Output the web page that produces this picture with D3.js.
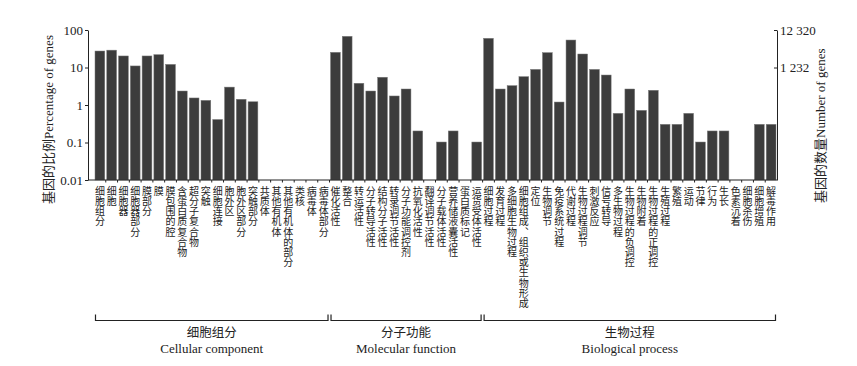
<!DOCTYPE html>
<html>
<head>
<meta charset="utf-8">
<script src="https://cdn.jsdelivr.net/npm/d3@7"></script>
<style>
body { margin: 0; background: #fff; }
</style>
</head>
<body>
<script>

const width = 857;
const height = 366;
const margin = ({top: 30, right: 80, bottom: 186, left: 88});

// categories and percentage of genes (0 = no bar)
const ccNames = ["细胞组分", "细胞", "细胞器", "细胞器部分", "膜部分", "膜", "膜包围的腔", "含蛋白质复合物",
    "超分子复合物", "突触", "细胞连接", "胞外区", "胞外区部分", "突触部分", "共质体", "其他有机体",
    "其他有机体的部分", "类核", "病毒体", "病毒体部分"];
const ccValues = [27.5, 29, 20.3, 11, 20.3, 22, 12.1, 2.36, 1.54, 1.33, 0.41, 3.0, 1.42, 1.22, 0, 0, 0, 0, 0, 0];

const mfNames = ["催化活性", "整合", "转运活性", "分子转导活性", "结构分子活性", "转录调节活性", "分子功能调控剂",
    "抗氧化活性", "翻译调节活性", "分子载体活性", "营养储液囊活性", "蛋白质标记", "运货受体活性"];
const mfValues = [25.4, 67.8, 3.8, 2.36, 5.5, 1.74, 2.67, 0.203, 0, 0.103, 0.203, 0, 0.103];

const bpNames = ["细胞过程", "发育过程", "多细胞生物过程", "细胞组成、组织或生物形成", "定位", "生物调节",
    "免疫系统过程", "代谢过程", "生物过程调节", "刺激反应", "信号转导", "多生物过程", "生物过程的负调控",
    "生物附着", "生物过程的正调控", "生殖过程", "繁殖", "运动", "节律", "行为", "生长", "色素沉着",
    "细胞杀伤", "细胞增殖", "解毒作用"];
const bpValues = [60, 2.67, 3.28, 5.7, 8.9, 24.9, 1.2, 54, 22.9, 8.9, 6.3, 0.6, 2.67, 0.72, 2.47,
    0.305, 0.305, 0.6, 0.103, 0.203, 0.203, 0, 0, 0.305, 0.305];

const groupCn = ["细胞组分", "分子功能", "生物过程"];
const groupEn = ["Cellular component", "Molecular function", "Biological process"];
const leftTicks = [100, 10, 1, 0.1, 0.01];
const rightTicks = [12320, 1232];
const totalGenes = 12320;

const serif = "'Liberation Serif', 'Times New Roman', 'Noto Sans CJK SC', serif";

window.onload = function(){

    var names = ccNames.concat(mfNames, bpNames);
    var values = ccValues.concat(mfValues, bpValues);
    var data = names.map(function(d, i){ return {name: d, value: values[i]}; });
    var groups = [ccNames, mfNames, bpNames].map(function(g, i){
        return {cn: groupCn[i], en: groupEn[i], first: g[0], last: g[g.length - 1]};
    });

    const x = d3.scaleBand()
        .domain(names)
        .range([94, width - margin.right])
        .paddingInner(0.17)
        .paddingOuter(0.085);

    const y = d3.scaleLog()
        .domain([0.01, 100])
        .range([height - margin.bottom, margin.top]);

    const yRight = d3.scaleLog()
        .domain([totalGenes / 10000, totalGenes])
        .range([height - margin.bottom, margin.top]);

    const locale = d3.formatLocale({decimal: ".", thousands: " ", grouping: [3], currency: ["", ""]});

    const svg = d3.select("body")
        .append("svg")
        .attr("width", width)
        .attr("height", height)
        .style("font-family", serif)
        .style("background", "#fff");

    // bars
    svg.append("g")
        .attr("fill", "#3c3c3c")
        .attr("stroke", "#7a7a7a")
        .attr("stroke-width", 0.5)
        .selectAll("rect")
        .data(data.filter(function(d){ return d.value > 0; }))
        .join("rect")
        .attr("x", function(d){ return x(d.name); })
        .attr("width", x.bandwidth())
        .attr("y", function(d){ return y(d.value); })
        .attr("height", function(d){ return y(0.01) - y(d.value); });

    // left axis
    svg.append("g")
        .attr("transform", "translate(" + margin.left + ",0)")
        .call(d3.axisLeft(y).tickValues(leftTicks).tickFormat(function(d){ return String(d); })
            .tickSizeInner(3).tickSizeOuter(0).tickPadding(2))
        .call(function(g){
            g.selectAll("text").attr("font-size", 13).attr("font-family", serif).attr("fill", "#222");
            g.selectAll("line, path").attr("stroke", "#222");
        });

    // right axis
    svg.append("g")
        .attr("transform", "translate(" + (width - margin.right) + ",0)")
        .call(d3.axisRight(yRight).tickValues(rightTicks).tickFormat(locale.format(","))
            .tickSizeInner(-3).tickSizeOuter(0).tickPadding(3))
        .call(function(g){
            g.selectAll("text").attr("font-size", 13).attr("font-family", serif).attr("fill", "#222");
            g.selectAll("line, path").attr("stroke", "#222");
        });

    // bottom axis line with small ticks between bars
    var step = x.step();
    svg.append("line")
        .attr("x1", margin.left).attr("x2", width - margin.right)
        .attr("y1", y(0.01)).attr("y2", y(0.01))
        .attr("stroke", "#222");
    svg.append("g")
        .attr("stroke", "#222")
        .selectAll("line")
        .data(names.slice(1))
        .join("line")
        .attr("x1", function(d){ return x(d) - step * x.paddingInner() / 2; })
        .attr("x2", function(d){ return x(d) - step * x.paddingInner() / 2; })
        .attr("y1", y(0.01))
        .attr("y2", y(0.01) + 2.5);

    // vertical category labels (top to bottom)
    svg.append("g")
        .attr("font-family", "'Noto Sans CJK SC', sans-serif")
        .attr("font-size", 10)
        .attr("fill", "#222")
        .selectAll("text")
        .data(names)
        .join("text")
        .attr("writing-mode", "vertical-rl")
        .attr("letter-spacing", 0.2)
        .attr("x", function(d){ return x(d) + x.bandwidth() / 2; })
        .attr("y", 186)
        .text(function(d){ return d; });

    // group brackets
    var gb = svg.append("g").selectAll("g").data(groups).join("g");
    gb.append("path")
        .attr("fill", "none")
        .attr("stroke", "#222")
        .attr("stroke-width", 1.2)
        .attr("d", function(d){
            var x0 = x(d.first) + 0.5, x1 = x(d.last) + x.bandwidth() - 0.5;
            return "M" + x0 + ",314.5V320.5H" + x1 + "V314.5";
        });
    gb.append("text")
        .attr("x", function(d){ return (x(d.first) + x(d.last) + x.bandwidth()) / 2; })
        .attr("y", 337)
        .attr("text-anchor", "middle")
        .attr("font-size", 12.5)
        .attr("font-family", "'Noto Sans CJK SC', sans-serif")
        .attr("fill", "#222")
        .text(function(d){ return d.cn; });
    gb.append("text")
        .attr("x", function(d){ return (x(d.first) + x(d.last) + x.bandwidth()) / 2; })
        .attr("y", 353)
        .attr("text-anchor", "middle")
        .attr("font-size", 13)
        .attr("fill", "#222")
        .text(function(d){ return d.en; });

    // axis titles
    svg.append("text")
        .attr("transform", "translate(53,204) rotate(-90)")
        .attr("font-size", 13)
        .attr("fill", "#222")
        .text("基因的比例Percentage of genes");

    svg.append("text")
        .attr("transform", "translate(825,203) rotate(-90)")
        .attr("font-size", 13)
        .attr("fill", "#222")
        .text("基因的数量Number of genes");
}

</script>
</body>
</html>
